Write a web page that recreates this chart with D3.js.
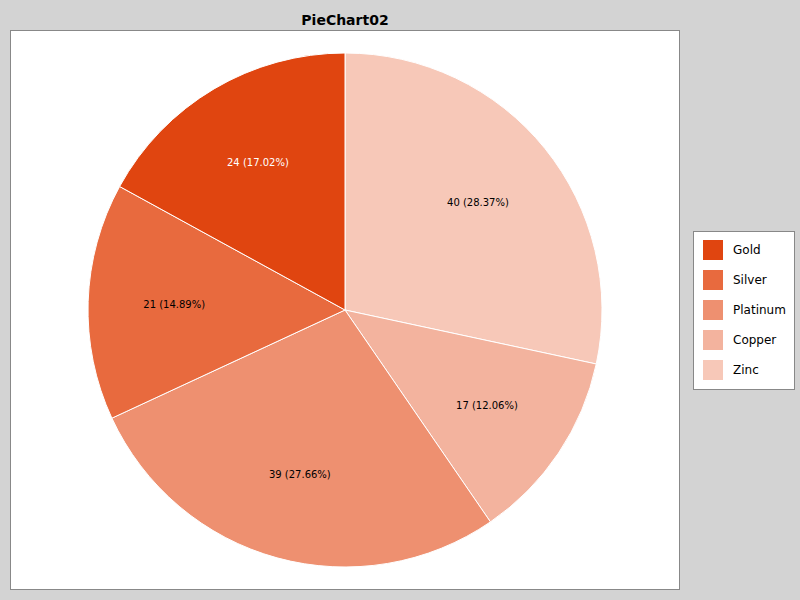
<!DOCTYPE html>
<html><head><meta charset="utf-8">
<script src="https://cdn.jsdelivr.net/npm/d3@7"></script>
<style>body{margin:0;background:#d3d3d3;font-family:"DejaVu Sans",sans-serif}</style>
</head><body>
<svg id="chart" width="800" height="600"></svg>
<script>
const categories = ['Gold', 'Silver', 'Platinum', 'Copper', 'Zinc'];
const values = [24, 21, 39, 17, 40];
const colors = ['#e04510', '#e86a3e', '#ee9070', '#f3b39e', '#f7c8b8'];
const labelColors = ['#fff', '#000', '#000', '#000', '#000'];

const svg = d3.select('#chart');
const cx = 345, cy = 310, r = 257;

svg.append('rect').attr('width', 800).attr('height', 600).attr('fill', '#d3d3d3');
svg.append('rect').attr('x', 10.5).attr('y', 30.5).attr('width', 669).attr('height', 559)
  .attr('fill', '#fff').attr('stroke', '#888');
svg.append('text').attr('x', 345).attr('y', 25).attr('text-anchor', 'middle')
  .attr('font-weight', 'bold').attr('font-size', 14).text('PieChart02');

const total = d3.sum(values);
// clockwise from 12 o'clock: Zinc, Copper, Platinum, Silver, Gold
const order = d3.range(categories.length).reverse();
const pie = d3.pie().sort(null).value(i => values[i]);
const arcs = pie(order);
const arc = d3.arc().innerRadius(0).outerRadius(r);
const labelArc = d3.arc().innerRadius(r * 0.665).outerRadius(r * 0.665);

const g = svg.append('g').attr('transform', `translate(${cx},${cy})`);
g.selectAll('path').data(arcs).join('path')
  .attr('d', arc).attr('fill', d => colors[d.data])
  .attr('stroke', '#fff').attr('stroke-width', 1);
g.selectAll('text').data(arcs).join('text')
  .attr('transform', d => `translate(${labelArc.centroid(d)})`)
  .attr('text-anchor', 'middle').attr('dy', '0.35em').attr('font-size', 10)
  .attr('fill', d => labelColors[d.data])
  .text(d => `${values[d.data]} (${(values[d.data] / total * 100).toFixed(2)}%)`);

const lg = svg.append('g').attr('transform', 'translate(693,231)');
lg.append('rect').attr('x', 0.5).attr('y', 0.5).attr('width', 101).attr('height', 158)
  .attr('fill', '#fff').attr('stroke', '#888');
const items = lg.selectAll('g').data(categories).join('g')
  .attr('transform', (d, i) => `translate(10,${9 + i * 30})`);
items.append('rect').attr('width', 20).attr('height', 20).attr('fill', (d, i) => colors[i]);
items.append('text').attr('x', 30).attr('y', 14).attr('font-size', 12).text(d => d);
</script>
</body></html>
